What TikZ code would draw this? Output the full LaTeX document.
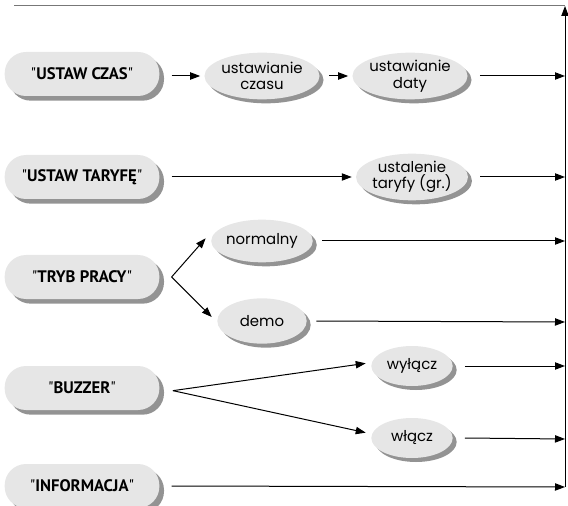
\documentclass[tikz,border=0pt]{standalone}
\usepackage{fontspec}
\usetikzlibrary{arrows.meta,shadows,shapes.geometric}
\newfontfamily\elfont{Poppins}
\newfontfamily\bxfont{PT Sans}
\definecolor{boxfill}{HTML}{E6E6E6}
\definecolor{shadowgray}{HTML}{939393}
\definecolor{topline}{HTML}{777777}
\begin{document}
\begin{tikzpicture}[x=0.75pt,y=-0.75pt,
  box/.style={fill=boxfill, rounded corners=16pt, minimum width=116pt, minimum height=33pt, inner sep=0pt,
    drop shadow={shadow xshift=3.5pt, shadow yshift=-3.5pt, fill=shadowgray, opacity=1},
    font=\bxfont\fontsize{12.5}{14}\selectfont},
  oval/.style={ellipse, fill=boxfill, minimum width=67pt, minimum height=35pt, inner sep=0pt, align=center,
    drop shadow={shadow xshift=3pt, shadow yshift=-3pt, fill=shadowgray, opacity=1},
    font=\elfont\fontsize{11.2}{12.5}\selectfont},
  small/.style={oval, minimum width=61pt, minimum height=30pt},
  conn/.style={-{Triangle[length=7.5pt,width=5.5pt]}, line width=0.75pt},
  ]
\useasboundingbox (0,0) rectangle (568,506);

% left boxes
\node[box] (b1) at (82,74)  {"\textbf{USTAW CZAS}"};
\node[box] (b2) at (82,177) {"\textbf{USTAW TARYFĘ}"};
\node[box] (b3) at (82,277) {"\textbf{TRYB PRACY}"};
\node[box] (b4) at (82,388) {"\textbf{BUZZER}"};
\node[box] (b5) at (82,486) {"\textbf{INFORMACJA}"};

% ellipses
\node[oval] (e1) at (262,76)  {ustawianie\\czasu};
\node[oval] (e2) at (410,76)  {ustawianie\\daty};
\node[oval] (e3) at (412,177) {ustalenie\\taryfy (gr.)};
\node[oval, minimum height=32pt] (e4) at (262,241) {normalny};
\node[oval, minimum height=34pt] (e5) at (262,321) {demo};
\node[small] (e6) at (412,366) {wyłącz};
\node[small] (e7) at (412,438) {włącz};

% right collector line
\coordinate (vtop) at (565,6);
\coordinate (vbot) at (565,487);
\coordinate (tl) at (14,6);
\coordinate (v1) at (565,76);
\coordinate (v2) at (565,177);
\coordinate (v4) at (565,241);
\coordinate (v5) at (565,322);
\coordinate (v6) at (565,366);
\coordinate (v7) at (565,439);
\coordinate (v8) at (565,487);

\draw[topline, line width=0.75pt] (tl) -- (vtop);
\draw[conn] (vbot) -- (vtop);

% row 1
\draw[conn] ([xshift=9pt]b1.east |- e1.west) -- ([xshift=-3pt]e1.west);
\draw[conn] ([xshift=7pt]e1.east) -- ([xshift=-3pt]e2.west);
\draw[conn] ([xshift=9pt]e2.east) -- (v1);
% row 2
\draw[conn] ([xshift=9pt]b2.east) -- ([xshift=-3pt]e3.west);
\draw[conn] ([xshift=9pt]e3.east) -- (v2);
% row 3
\coordinate (a3) at ([xshift=9pt]b3.east);
\draw[conn] (a3) -- ([xshift=-4pt,yshift=2pt]e4.west);
\draw[conn] (a3) -- ([xshift=-4pt,yshift=3pt]e5.west);
\draw[conn] ([xshift=7pt]e4.east) -- (v4);
\draw[conn] ([xshift=7pt]e5.east) -- (v5);
% row 4
\coordinate (a4) at ([xshift=10pt,yshift=-2pt]b4.east);
\draw[conn] (a4) -- ([xshift=-4pt,yshift=2pt]e6.west);
\draw[conn] (a4) -- ([xshift=-4pt,yshift=4pt]e7.west);
\draw[conn] ([xshift=9pt]e6.east) -- (v6);
\draw[conn] ([xshift=9pt]e7.east) -- (v7);
% row 5
\draw[conn] ([xshift=9pt]b5.east) -- (v8);
\end{tikzpicture}
\end{document}
